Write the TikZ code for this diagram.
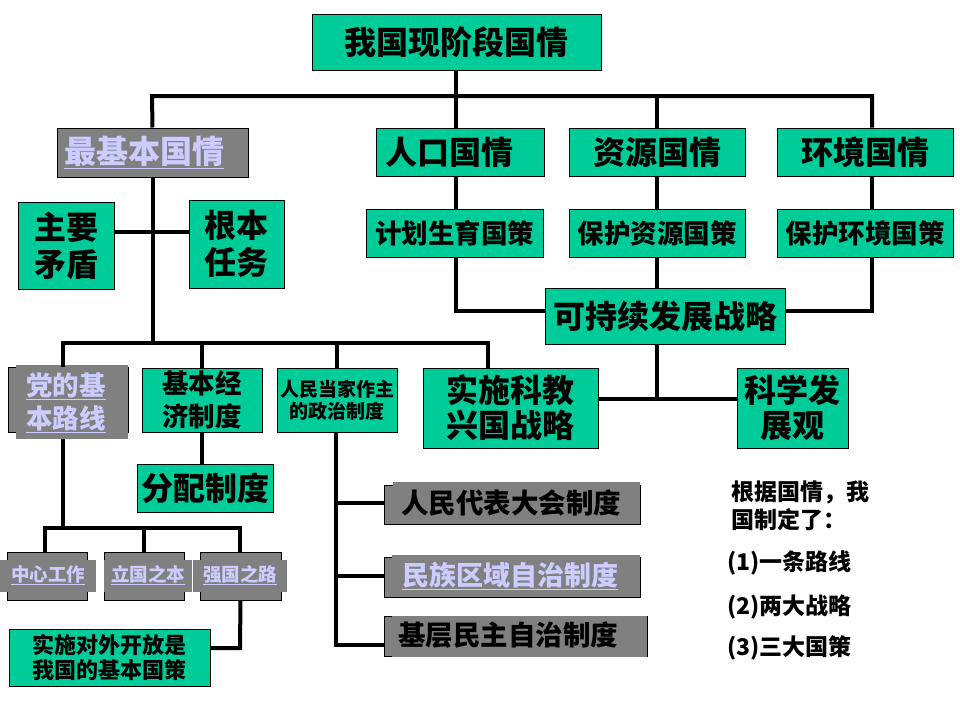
\documentclass[tikz,border=0pt]{standalone}
\usepackage{fontspec}
\setmainfont{Noto Sans CJK SC}
\newfontfamily\medfont{Noto Sans CJK SC Medium}
\definecolor{boxgreen}{RGB}{0,204,153}
\definecolor{boxgray}{RGB}{128,128,128}
\definecolor{linktext}{RGB}{204,204,255}
\newcommand\fsz[2]{\fontsize{#1}{#2}\selectfont\bfseries}
\begin{document}
\begin{tikzpicture}[x=1pt,y=-1pt,
  gbox/.style={draw=black,line width=1pt,fill=boxgreen,inner sep=0pt,align=center,text=black},
  ybox/.style={draw=black,line width=1pt,fill=boxgray,inner sep=0pt},
  gfill/.style={fill=boxgray},
  ttext/.style={inner sep=0pt,align=center,text=black},
  ltext/.style={inner sep=0pt,align=center,text=linktext},
  conn/.style={line width=4pt,draw=black,line join=miter}]
\useasboundingbox (0,0) rectangle (960,720);

% ---- top level
\node[gbox,minimum width=289,minimum height=56,font=\fsz{32}{38}] (top) at (456.5,42) {我国现阶段国情};

% ---- second row
\node[ybox,minimum width=191,minimum height=49] (zjb) at (152.5,152.5) {};
\node[ltext,font=\fsz{32}{38}] (zjbt) at (144,152.5) {\underline{最基本国情}};
\node[gbox,minimum width=168,minimum height=48,font=\fsz{32}{38}] (rk) at (460,152) {人口国情\hspace{22pt}};
\node[gbox,minimum width=176,minimum height=48,font=\fsz{32}{38}] (zy) at (657,152) {资源国情};
\node[gbox,minimum width=176,minimum height=48,font=\fsz{32}{38}] (hj) at (865,152) {环境国情};

% ---- third row
\node[gbox,minimum width=96,minimum height=87,font=\fsz{32}{37}] (zymd) at (66,245.5) {主要\\矛盾};
\node[gbox,minimum width=95,minimum height=88,font=\fsz{32}{37}] (gbrw) at (236.5,244) {根本\\任务};
\node[gbox,minimum width=177,minimum height=48,font=\fsz{26.5}{30}] (jh) at (454.5,233) {计划生育国策};
\node[gbox,minimum width=176,minimum height=48,font=\fsz{26.5}{30}] (bz) at (657,233) {保护资源国策};
\node[gbox,minimum width=176,minimum height=48,font=\fsz{26.5}{30}] (bh) at (865,233) {保护环境国策};
\node[gbox,minimum width=240,minimum height=56,font=\fsz{32}{38}] (kcx) at (665,316) {可持续发展战略};

% ---- fourth row
\node[ybox,minimum width=120,minimum height=65] (dj) at (68,399.5) {};
\fill[gfill] (16,365) rectangle (128,439);
\node[ltext,font=\fsz{26.5}{33}] (djt) at (66,403) {\underline{党的基}\\\underline{本路线}};
\node[gbox,minimum width=120,minimum height=64,font=\fsz{26.5}{33}] (jbjj) at (202,400) {基本经\\济制度};
\node[gbox,minimum width=120,minimum height=64,font=\fsz{19}{22}] (rmdj) at (337,400) {人民当家作主\\的政治制度};
\node[gbox,minimum width=175,minimum height=80,font=\fsz{32}{35}] (kjxg) at (510.5,408) {实施科教\\兴国战略};
\node[gbox,minimum width=111,minimum height=80,font=\fsz{32}{35}] (kxfz) at (792.5,408) {科学发\\展观};
\node[gbox,minimum width=136,minimum height=48,font=\fsz{32}{38}] (fp) at (205,488) {分配制度};

% ---- political system boxes
\node[ybox,minimum width=256,minimum height=39] (rd) at (512,504.5) {};
\fill[gfill] (393,482) rectangle (640,522);
\node[ttext,font=\fsz{27.5}{30}] (rdt) at (511,503) {人民代表大会制度};
\node[ybox,minimum width=256,minimum height=40] (mz) at (512,577) {};
\fill[gfill] (392,555) rectangle (640,595);
\node[ltext,font=\fsz{27}{30}] (mzt) at (510,576) {\underline{民族区域自治制度}};
\node[ybox,minimum width=263,minimum height=40] (jc) at (515.5,636) {};
\fill[gfill] (392,616) rectangle (647,657);
\node[ttext,font=\fsz{27.5}{30}] (jct) at (508,635) {基层民主自治制度};

% ---- basic line boxes
\node[ybox,minimum width=80,minimum height=48] (zx) at (47,576) {};
\fill[gfill] (0,560) rectangle (96,592);
\node[ltext,font=\fsz{18.5}{22}] (zxt) at (48,575) {\underline{中心工作}};
\node[ybox,minimum width=80,minimum height=48] (lg) at (144,576) {};
\fill[gfill] (104,560) rectangle (192,592);
\node[ltext,font=\fsz{18.5}{22}] (lgt) at (148,575) {\underline{立国之本}};
\node[ybox,minimum width=81,minimum height=48] (qg) at (240.5,576) {};
\fill[gfill] (193,560) rectangle (287,592);
\node[ltext,font=\fsz{18.5}{22}] (qgt) at (240,575) {\underline{强国之路}};
\node[gbox,minimum width=201,minimum height=57,font=\fsz{22}{25}] (dw) at (109.5,657.5) {实施对外开放是\\我国的基本国策};

% ---- right notes
\node[inner sep=0pt,align=left,anchor=west,font=\fsz{23}{28}] (note) at (731,506) {根据国情，我\\国制定了：};
\node[inner sep=0pt,anchor=west,font=\fsz{23}{25}] (n1) at (727,563) {{\medfont(1)}一条路线};
\node[inner sep=0pt,anchor=west,font=\fsz{23}{25}] (n2) at (727,607) {{\medfont(2)}两大战略};
\node[inner sep=0pt,anchor=west,font=\fsz{23}{25}] (n3) at (727,648) {{\medfont(3)}三大国策};

% ---- coordinates
\coordinate (b1L) at (152,96);
\coordinate (b1R) at (872,96);
\coordinate (m1) at (152,232);
\coordinate (k1) at (456,311);
\coordinate (k2) at (872,311);
\coordinate (k3) at (657,399);
\coordinate (b2L) at (63,343);
\coordinate (b2R) at (488,343);
\coordinate (b3L) at (45,528);
\coordinate (b3R) at (240,528);
\coordinate (q1) at (240,648);
\coordinate (p1) at (336,503);
\coordinate (p2) at (336,576);
\coordinate (p3) at (336,645);

% ---- connectors
\draw[conn] (zjb.north) -- (b1L) -- (b1R) -- (b1R |- hj.north);
\draw[conn] (top.south -| k1) -- (k1 |- rk.north);
\draw[conn] (zy.north |- b1L) -- (zy.north);
\draw[conn] (k1 |- rk.south) -- (k1 |- jh.north);
\draw[conn] (zy.south) -- (bz.north);
\draw[conn] (b1R |- hj.south) -- (b1R |- bh.north);
\draw[conn] (k1 |- jh.south) -- (k1) -- (kcx.west |- k1);
\draw[conn] (bz.south) -- (bz.south |- kcx.north);
\draw[conn] (b1R |- bh.south) -- (k2) -- (kcx.east |- k2);
\draw[conn] (k3 |- kcx.south) -- (k3);
\draw[conn] (kjxg.east |- k3) -- (kxfz.west |- k3);

\draw[conn] (zjb.south) -- (zjb.south |- b2L);
\draw[conn] (zymd.east |- m1) -- (gbrw.west |- m1);
\draw[conn] (b2L |- dj.north) -- (b2L) -- (b2R) -- (b2R |- kjxg.north);
\draw[conn] (jbjj.north |- b2L) -- (jbjj.north);
\draw[conn] (rmdj.north |- b2L) -- (rmdj.north);
\draw[conn] (jbjj.south) -- (jbjj.south |- fp.north);

\draw[conn] (b2L |- 0,439) -- (b2L |- b3L);
\draw[conn] (b3L |- zx.north) -- (b3L) -- (b3R) -- (b3R |- qg.north);
\draw[conn] (lg.north |- b3L) -- (lg.north);
\draw[conn] (qg.south) -- (q1) -- (dw.east |- q1);

\draw[conn] (p1 |- rmdj.south) -- (p3) -- (jc.west |- p3);
\draw[conn] (p1) -- (rd.west |- p1);
\draw[conn] (p2) -- (mz.west |- p2);
\end{tikzpicture}
\end{document}
